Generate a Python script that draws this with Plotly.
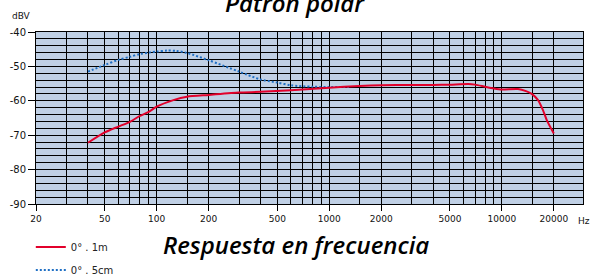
import numpy as np
import plotly.graph_objects as go

# ---- data ----
freq_1m = [40, 50, 60, 70, 80, 90, 100, 125, 150, 200, 300, 400, 600, 1000, 1500, 2000,
           3000, 4000, 5000, 6400, 7000, 8000, 9000, 10000, 12400, 13800, 14900, 16200,
           17300, 18200, 20000]
db_1m = [-72.2, -69.2, -67.5, -66.1, -64.4, -63.2, -61.7, -59.8, -58.8, -58.3, -57.6, -57.4,
         -56.9, -56.2, -55.7, -55.5, -55.4, -55.4, -55.3, -55.1, -55.3, -55.9, -56.4, -56.7,
         -56.6, -57.2, -58.0, -59.8, -62.7, -65.6, -69.5]

freq_5cm = [40, 50, 60, 70, 80, 90, 100, 115, 130, 150, 200, 300, 400, 500, 600, 800, 1000, 1300]
db_5cm = [-51.5, -49.6, -48.1, -47.2, -46.4, -46.0, -45.7, -45.4, -45.5, -46.1, -48.2, -51.5,
          -53.8, -54.7, -55.5, -55.9, -56.0, -56.0]

x_label_vals = [20, 50, 100, 200, 500, 1000, 2000, 5000, 10000, 20000]
x_grid_vals = [30, 40, 60, 70, 80, 90, 150, 300, 400, 600, 700, 800, 900, 1500, 3000, 4000,
               6000, 7000, 8000, 9000, 15000]
y_label_vals = [-40, -50, -60, -70, -80, -90]

series_names = ["0° . 1m", "0° . 5cm"]
title_top = "Patrón polar"
title_bottom = "Respuesta en frecuencia"

fig = go.Figure()
fig.add_trace(go.Scatter(
    x=freq_5cm, y=db_5cm, mode="lines", name=series_names[1], legendgroup="b",
    line=dict(color="#1f6fc4", width=2, dash="2px,2px", shape="spline", smoothing=0.8),
    legendrank=2,
))
fig.add_trace(go.Scatter(
    x=freq_1m, y=db_1m, mode="lines", name=series_names[0], legendgroup="a",
    line=dict(color="#e2002b", width=2, shape="spline", smoothing=0.6),
    legendrank=1,
))

fig.update_layout(
    width=592, height=276,
    margin=dict(l=36, r=9, t=32, b=72, autoexpand=False),
    paper_bgcolor="white",
    plot_bgcolor="#c0d0e5",
    showlegend=True,
    legend=dict(x=-0.0095, y=-0.165, xanchor="left", yanchor="top",
                font=dict(family="DejaVu Sans", size=10, color="#222"),
                tracegroupgap=4, bgcolor="rgba(0,0,0,0)", itemwidth=30),
    font=dict(family="DejaVu Sans", size=10, color="#111"),
)

fig.update_xaxes(
    type="log", range=[np.log10(20), 4.47], automargin=False,
    tickmode="array", tickvals=x_label_vals, ticktext=[str(v) for v in x_label_vals],
    ticks="outside", ticklen=6, tickcolor="black", tickwidth=1,
    showgrid=True, gridcolor="black", gridwidth=1,
    minor=dict(tickmode="array", tickvals=x_grid_vals, showgrid=True,
               gridcolor="black", gridwidth=1, ticks=""),
    showline=True, linecolor="black", linewidth=1, mirror=True,
    tickfont=dict(family="DejaVu Sans", size=9, color="#111"),
    zeroline=False,
)
fig.update_yaxes(
    range=[-90, -40], automargin=False,
    tickmode="array", tickvals=y_label_vals, ticktext=[str(v) for v in y_label_vals],
    ticks="outside", ticklen=7, tickcolor="black", tickwidth=1,
    showgrid=True, gridcolor="black", gridwidth=1,
    minor=dict(dtick=2, tick0=-90, showgrid=True, gridcolor="black", gridwidth=1, ticks=""),
    showline=True, linecolor="black", linewidth=1, mirror=True,
    tickfont=dict(family="DejaVu Sans", size=10, color="#111"),
    zeroline=False,
)

fig.add_annotation(xref="paper", yref="paper", x=1.0165, y=-0.099, xanchor="right", yanchor="middle",
                   text="Hz", showarrow=False,
                   font=dict(family="DejaVu Sans", size=9, color="#111"))
fig.add_annotation(xref="paper", yref="paper", x=-0.0475, y=1.093, xanchor="left", yanchor="middle",
                   text="dBV", showarrow=False,
                   font=dict(family="DejaVu Sans", size=9, color="#111"))
fig.add_annotation(xref="paper", yref="paper", x=0.4735, y=1.17, xanchor="center", yanchor="middle",
                   text=title_top, showarrow=False,
                   font=dict(family="Open Sans", size=24, color="black", weight=600, style="italic"))
fig.add_annotation(xref="paper", yref="paper", x=0.475, y=-0.238, xanchor="center", yanchor="middle",
                   text=title_bottom, showarrow=False,
                   font=dict(family="Open Sans", size=24, color="black", weight=600, style="italic"))

fig.write_html("out.html", config={"displayModeBar": False},
               post_script="document.body.style.margin='0';")
